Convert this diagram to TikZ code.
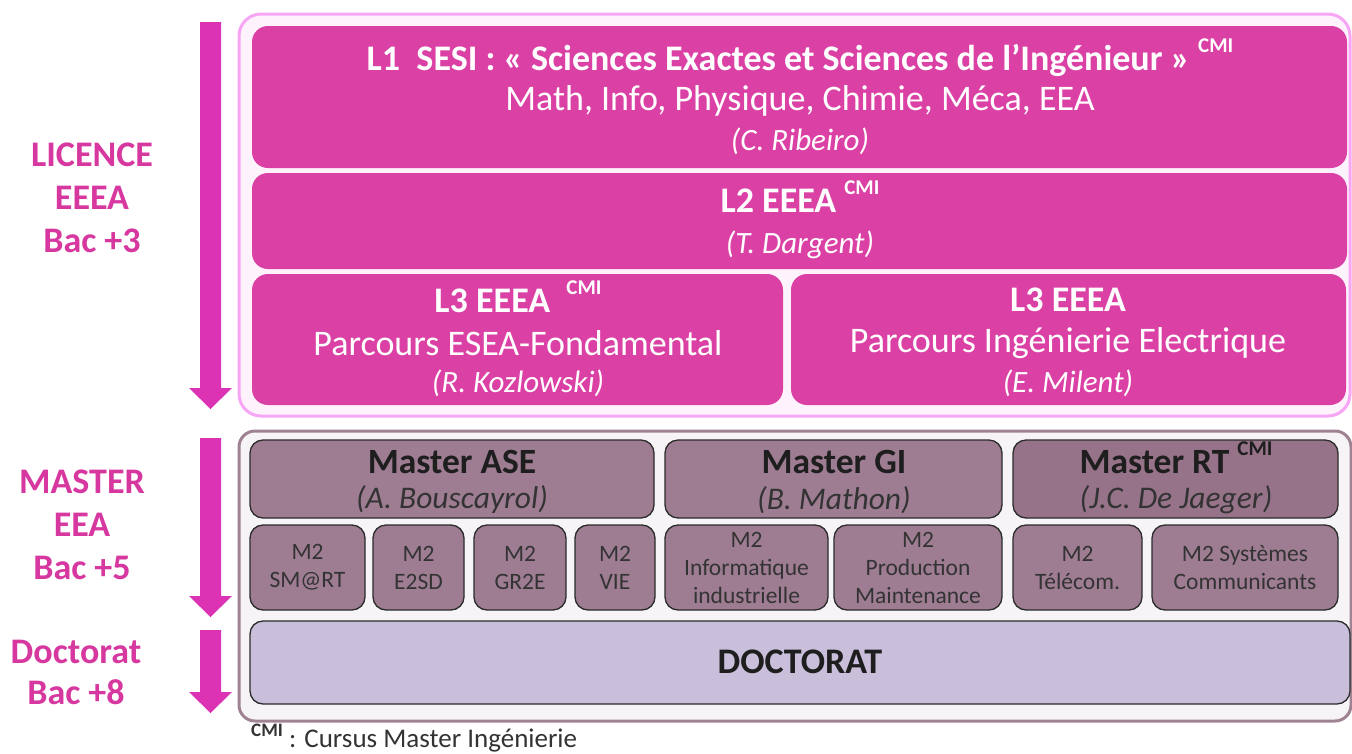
\documentclass[tikz,border=0pt]{standalone}
\usepackage{fontspec}
\setmainfont{Carlito}
\definecolor{lpink}{HTML}{DB41A5}
\definecolor{tpink}{HTML}{D6389F}
\definecolor{apink}{HTML}{DB33B4}
\definecolor{obord}{HTML}{F7A6F5}
\definecolor{ofill}{HTML}{FEF2FD}
\definecolor{mfill}{HTML}{9E7D93}
\definecolor{mfilldk}{HTML}{967389}
\definecolor{mbord}{HTML}{A08393}
\definecolor{mofill}{HTML}{F6F4F6}
\definecolor{dfill}{HTML}{CABFDB}
\definecolor{dkline}{HTML}{2B2B2B}
\definecolor{mtext}{HTML}{1E1E1E}
\definecolor{m2text}{HTML}{333333}
\newcommand{\cmimark}{\raisebox{0.5em}{\fontsize{21}{21}\selectfont\bfseries CMI}}
\newcommand{\fs}[2]{\fontsize{#1}{#2}\selectfont}
\tikzset{
  box/.style={rectangle, rounded corners=16pt, inner sep=0pt, outer sep=0pt, align=center},
  lbox/.style={box, fill=lpink, text=white, draw=none},
  mbox/.style={box, rounded corners=13pt, fill=mfill, draw=dkline, line width=1.3pt, text=mtext},
  m2box/.style={box, rounded corners=13pt, fill=mfill, draw=dkline, line width=1.3pt, text=m2text, font=\fs{23.5}{28}},
  side/.style={align=center, text=tpink, font=\bfseries\fs{36}{43}},
  ltitle/.style={text=white, font=\bfseries\fs{36}{42}},
  lsub/.style={text=white, font=\fs{36}{42}},
  lname/.style={text=white, font=\itshape\fs{31}{36}},
  mtitle/.style={text=mtext, font=\bfseries\fs{35.5}{42}},
  mname/.style={text=m2text, font=\itshape\fs{31.5}{36}},
}
\newcommand{\boxat}[6]{%
  \node[#1, minimum width=#5-#3, minimum height=#6-#4] (#2) at ({(#3+#5)/2},{(#4+#6)/2})}
\begin{document}
\begin{tikzpicture}[x=1pt,y=-1pt]
\useasboundingbox (0,0) rectangle (1352,753);
% outer frames
\boxat{box, rounded corners=22pt, draw=obord, fill=ofill, line width=3pt}{licframe}{239}{14}{1350}{416}{};
\boxat{box, rounded corners=16pt, draw=mbord, fill=mofill, line width=3pt}{masframe}{239}{431}{1351}{721}{};
% licence boxes
\boxat{lbox}{L1}{252}{26}{1347}{168}{};
\boxat{lbox}{L2}{252}{173}{1347}{269}{};
\boxat{lbox}{L3a}{252}{274}{783}{405}{};
\boxat{lbox}{L3b}{791}{274}{1346}{405}{};
\node[ltitle] (L1t) at (800,58) {L1\ \ SESI : «~Sciences Exactes et Sciences de l’Ingénieur~» \cmimark};
\node[lsub] (L1s) at (800,101) {Math, Info, Physique, Chimie, Méca, EEA};
\node[lname] (L1p) at (800,141) {(C. Ribeiro)};
\node[ltitle] (L2t) at (800,197) {L2 EEEA \cmimark};
\node[lname] (L2p) at (800,245) {(T. Dargent)};
\node[ltitle] (L3at) at (518,297) {L3 EEEA\ \ \cmimark};
\node[lsub] (L3as) at (518,343) {Parcours ESEA-Fondamental};
\node[lname] (L3ap) at (518,383) {(R. Kozlowski)};
\node[ltitle] (L3bt) at (1068,300) {L3 EEEA};
\node[lsub] (L3bs) at (1068,343) {Parcours Ingénierie Electrique};
\node[lname] (L3bp) at (1068,383) {(E. Milent)};
% master boxes
\boxat{mbox}{ASE}{250}{440}{654}{518}{};
\boxat{mbox}{GI}{665}{440}{1002}{518}{};
\boxat{mbox, fill=mfilldk}{RT}{1013}{440}{1338}{518}{};
\node[mtitle] (ASEt) at (452,462) {Master ASE};
\node[mname] (ASEp) at (452,500) {(A. Bouscayrol)};
\node[mtitle] (GIt) at (834,462) {Master GI};
\node[mname] (GIp) at (834,500) {(B. Mathon)};
\node[mtitle] (RTt) at (1176,458) {Master RT \cmimark};
\node[mname] (RTp) at (1176,500) {(J.C. De Jaeger)};
% M2 boxes
\boxat{m2box}{smart}{250}{525}{365}{610}{M2\\SM@RT};
\boxat{m2box}{e2sd}{373}{525}{464}{610}{M2\\E2SD};
\boxat{m2box}{gr2e}{474}{525}{566}{610}{M2\\GR2E};
\boxat{m2box}{vie}{575}{525}{655}{610}{M2\\VIE};
\boxat{m2box}{info}{665}{525}{828}{610}{M2\\Informatique\\industrielle};
\boxat{m2box}{prod}{834}{525}{1002}{610}{M2\\Production\\Maintenance};
\boxat{m2box}{tele}{1013}{525}{1142}{610}{M2\\Télécom.};
\boxat{m2box}{syst}{1152}{525}{1338}{610}{M2 Systèmes\\Communicants};
% doctorat
\boxat{mbox, fill=dfill}{doc}{250}{621}{1350}{704}{};
\node[mtitle, font=\bfseries\fs{36}{42}] (doct) at (800,662) {DOCTORAT};
% side arrows
\fill[apink] (200,22) -- (221,22) -- (221,388) -- (232,388) -- (210.5,409) -- (189,388) -- (200,388) -- cycle;
\fill[apink] (200,438) -- (221,438) -- (221,596) -- (232,596) -- (210.5,617) -- (189,596) -- (200,596) -- cycle;
\fill[apink] (200,630) -- (221,630) -- (221,692) -- (232,692) -- (210.5,713) -- (189,692) -- (200,692) -- cycle;
% side labels
\node[side] (lic) at (92,198) {LICENCE\\EEEA\\Bac +3};
\node[side] (mas) at (82,525) {MASTER\\EEA\\Bac +5};
\node[side, font=\bfseries\fs{36}{41}] (dct) at (76,672) {Doctorat\\Bac +8};
% footnote
\node[anchor=west, text=m2text, font=\fs{27}{32}, inner sep=0pt] (foot) at (251,738) {\raisebox{0.4em}{\fontsize{19}{19}\selectfont\bfseries CMI} : Cursus Master Ingénierie};
\end{tikzpicture}
\end{document}
